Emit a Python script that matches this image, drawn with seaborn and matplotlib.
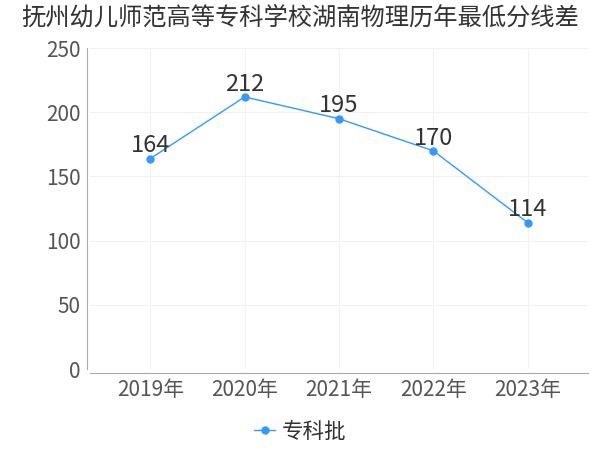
import matplotlib
matplotlib.use("Agg")
import matplotlib.pyplot as plt
import pandas as pd
import seaborn as sns

# data
years = ["2019年", "2020年", "2021年", "2022年", "2023年"]
scores = [164, 212, 195, 170, 114]
series_name = "专科批"

df = pd.DataFrame({"year": years, "score": scores, "batch": series_name})

sns.set_style("white")
plt.rcParams["font.family"] = ["Noto Sans CJK SC", "DejaVu Sans"]

fig = plt.figure(figsize=(6, 4.5), dpi=100)
ax = fig.add_axes([0.15, 0.18, 0.83, 0.713])

blue = "#3399ff"
sns.lineplot(
    data=df, x="year", y="score", hue="batch", palette=[blue],
    marker="o", markersize=6, markeredgewidth=0, linewidth=1,
    sort=False, ax=ax,
)

for i, v in enumerate(scores):
    ax.text(i, v + 1, str(v), ha="center", va="bottom", fontsize=17, color="#333333")

ax.set_ylim(0, 250)
ax.set_yticks([0, 50, 100, 150, 200, 250])
ax.set_xlim(-0.64, 4.64)
ax.set_xlabel("")
ax.set_ylabel("")

ax.grid(True, color="#f2f2f2", linewidth=0.8)
ax.set_axisbelow(True)
for s in ["top", "right"]:
    ax.spines[s].set_visible(False)
ax.spines["left"].set_color("#aaaaaa")
ax.spines["bottom"].set_color("#aaaaaa")
ax.spines["bottom"].set_position(("outward", 3))
ax.spines["left"].set_position(("outward", 2))
ax.axvline(4.64, color="#f2f2f2", linewidth=0.8)

ax.tick_params(axis="both", labelsize=15, colors="#555555", length=0, pad=5)
ax.tick_params(axis="x", length=3, color="#aaaaaa", direction="in", pad=4)

fig.suptitle("抚州幼儿师范高等专科学校湖南物理历年最低分线差",
             fontsize=17.5, color="#333333", x=0.5, y=0.99)

ax.legend(loc="center", bbox_to_anchor=(0.5, 0.04), bbox_transform=fig.transFigure,
          frameon=False, fontsize=15.5, handlelength=1.0, handletextpad=0.3,
          labelcolor="#333333")

fig.savefig("out.png", dpi=100)
